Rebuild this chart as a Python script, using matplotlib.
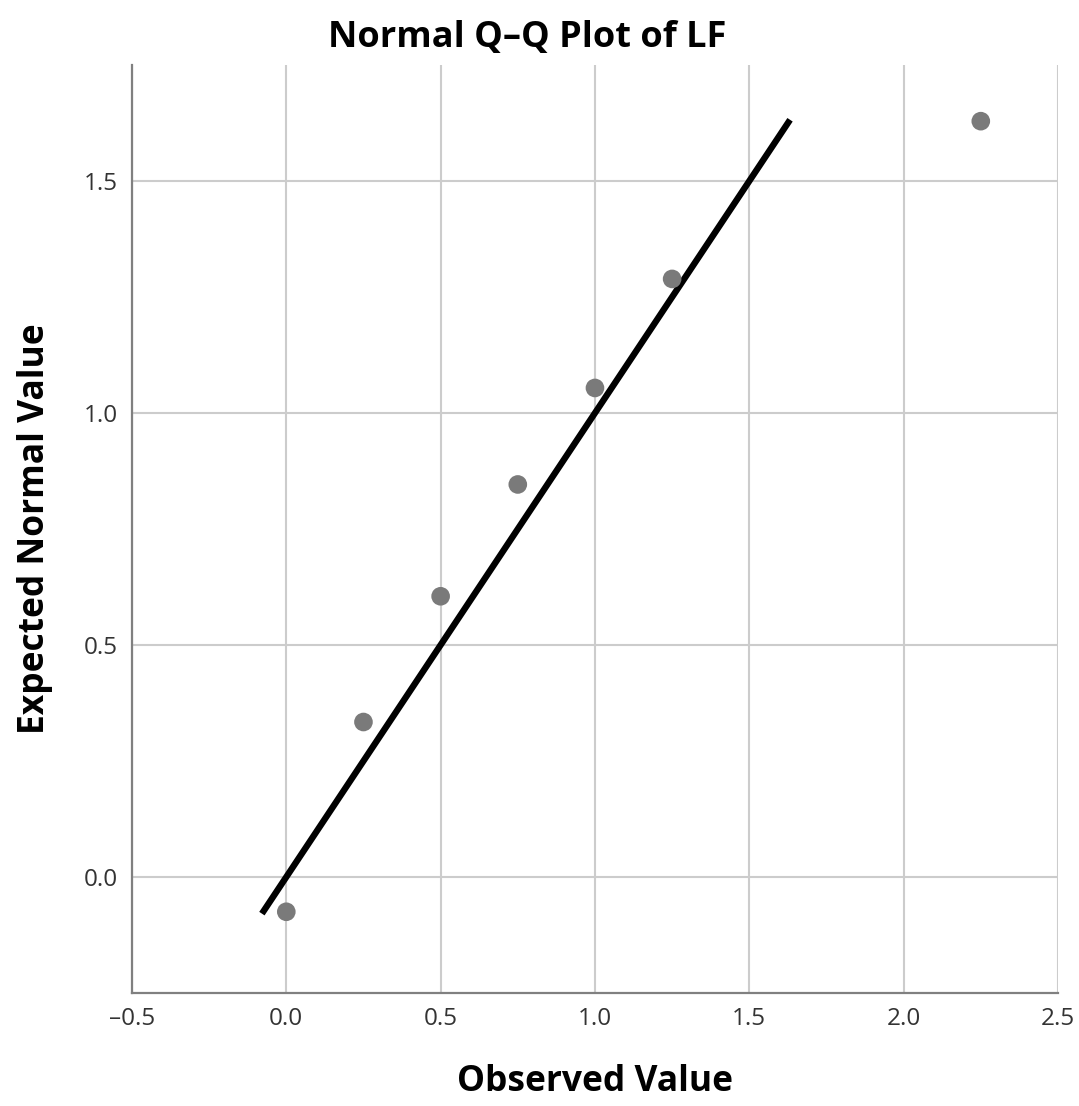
import matplotlib
matplotlib.use("Agg")
import matplotlib.pyplot as plt

# observed values and expected normal values
observed = [0.0, 0.25, 0.5, 0.75, 1.0, 1.25, 2.25]
expected = [-0.075, 0.334, 0.605, 0.846, 1.054, 1.289, 1.629]

# reference line (y = x)
line_x = [-0.079, 1.632]
line_y = [-0.079, 1.632]

xticks = [-0.5, 0.0, 0.5, 1.0, 1.5, 2.0, 2.5]
yticks = [0.0, 0.5, 1.0, 1.5]

plt.rcParams['font.family'] = ['Open Sans', 'DejaVu Sans']

def fmt(v):
    return ('%.1f' % v).replace('-', '\u2013')

fig = plt.figure(figsize=(10.79, 11.06), dpi=100)
ax = fig.add_axes([0.1223, 0.1022, 0.8582, 0.8390])

ax.plot(line_x, line_y, color='black', linewidth=4.6, solid_capstyle='butt', zorder=3)
ax.scatter(observed, expected, s=180, color='#7a7a7a', edgecolors='none', zorder=4)

ax.set_xlim(-0.5, 2.5)
ax.set_ylim(-0.25, 1.75)
ax.set_xticks(xticks)
ax.set_yticks(yticks)
ax.set_xticklabels([fmt(v) for v in xticks])
ax.set_yticklabels([fmt(v) for v in yticks])
ax.grid(True, color='#cccccc', linewidth=1.5)
ax.set_axisbelow(True)

for s in ['top', 'right']:
    ax.spines[s].set_visible(False)
for s in ['left', 'bottom']:
    ax.spines[s].set_color('#808080')
    ax.spines[s].set_linewidth(1.6)

ax.tick_params(length=0, labelsize=17.5, colors='#333333', pad=10)
ax.set_xlabel('Observed Value', fontsize=25.5, fontweight='bold', labelpad=24)
ax.set_ylabel('Expected Normal Value', fontsize=25.5, fontweight='bold', labelpad=22)

# title sits a bit left of the axes centre in the original
fig.text(0.489, 0.9655, 'Normal Q\u2013Q Plot of LF', fontsize=26, fontweight='bold',
         ha='center', va='center')

fig.savefig('out.png', dpi=100)
